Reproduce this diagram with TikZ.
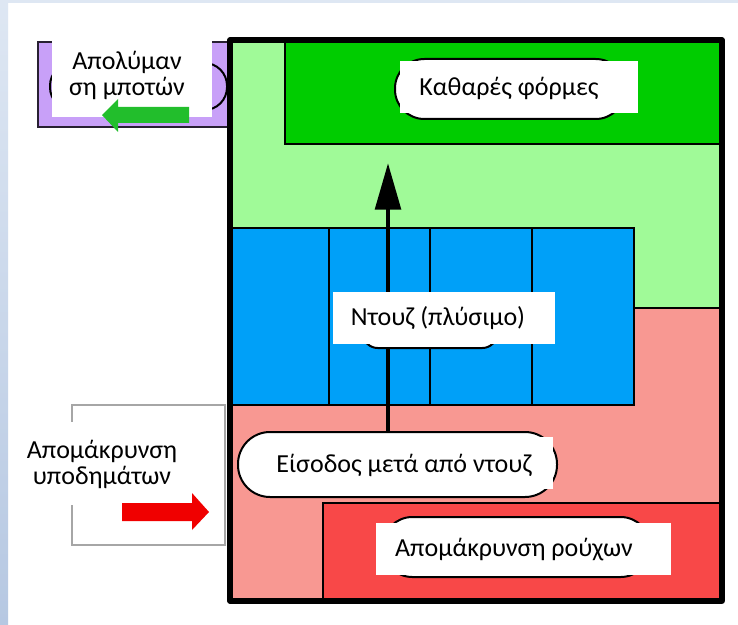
\documentclass[tikz,border=0pt]{standalone}
\usepackage{fontspec}
\setmainfont{Carlito}
\usetikzlibrary{arrows.meta}
\definecolor{lgreen}{RGB}{160,250,152}
\definecolor{dgreen}{RGB}{0,204,0}
\definecolor{wblue}{RGB}{0,160,248}
\definecolor{wpink}{RGB}{248,152,146}
\definecolor{wred}{RGB}{248,72,72}
\definecolor{wpurple}{RGB}{200,160,248}
\definecolor{agreen}{RGB}{34,190,44}
\definecolor{ared}{RGB}{240,0,0}
\definecolor{bgtop}{RGB}{222,231,243}
\definecolor{bgbot}{RGB}{182,200,226}
\begin{document}
\begin{tikzpicture}[x=0.75pt,y=-0.75pt,
  lbl/.style={font=\fontsize{19.5pt}{19.5pt}\selectfont, inner sep=0pt, align=center},
  stad/.style={draw=black, line width=1.5pt, fill=white},
  wbox/.style={fill=white},
  edge/.style={draw=black, line width=2pt},
  frame/.style={draw=black, line width=3.8pt, line join=round}]
\useasboundingbox (0,0) rectangle (738,624);
\fill[white] (0,0) rectangle (738,624);
\fill[bgtop] (0,0) rectangle (738,3);
\shade[top color=bgtop, bottom color=bgbot] (0,0) rectangle (8,624);

% left: boots
\draw[fill=wpurple, draw=black!80!wpurple, line width=1.5pt] (38,42) rectangle (228,127);
\draw[stad, fill=none, rounded corners=17pt] (50,63) rectangle (227,110);
\fill[wbox] (52,41) rectangle (212,117);
\node[lbl] (boots) at (127,75) {Απολύμαν\\ση μποτών};
\fill[agreen] (189,107) -- (118,107) -- (118,99) -- (102,115) -- (118,132) -- (118,123) -- (189,123) -- cycle;

% left: shoes
\draw[gray!70, line width=1.2pt] (72,405) rectangle (225,545);
\fill[wbox] (20,422) rectangle (205,505);
\node[lbl] (shoes) at (102,464) {Απομάκρυνση\\υποδημάτων};
\fill[ared] (122,503) -- (192,503) -- (192,493) -- (209,512) -- (192,530) -- (192,521) -- (122,521) -- cycle;

% main frame
\fill[wpink] (230,40) rectangle (722,601);
\fill[lgreen] (230,40) -- (722,40) -- (722,308) -- (634,308) -- (634,228) -- (230,228) -- cycle;
\draw[edge, fill=wblue] (230,228) rectangle (634,405);
\draw[edge] (329,228) -- (329,405);
\draw[edge] (430,228) -- (430,405);
\draw[edge] (532,228) -- (532,405);
\draw[edge] (634,308) -- (722,308);
\draw[edge, fill=dgreen] (285,40) rectangle (722,144);
\draw[edge, fill=wred] (323,503) rectangle (722,601);
\draw[frame] (230,40) rectangle (722,601);

% flow arrow
\coordinate (base) at (388,432);
\coordinate (tip) at (388,163);
\draw[line width=3.6pt, -{Triangle[length=35pt,width=19pt]}] (base) -- (tip);

% stadiums
\draw[stad, rounded corners=22pt] (395,59) rectangle (625,119);
\draw[stad, rounded corners=11pt] (363,296) rectangle (497,348);
\draw[stad, rounded corners=24pt] (238,432) rectangle (557,497);
\draw[stad, rounded corners=22pt] (383,517) rectangle (650,577);

% white label boxes
\fill[wbox] (400,61) rectangle (638,113);
\fill[wbox] (333,292) rectangle (555,344);
\fill[wbox] (257,437) rectangle (553,489);
\fill[wbox] (376,523) rectangle (671,575);

\node[lbl] (kath) at (509,88) {Καθαρές φόρμες};
\node[lbl] (ntouz) at (438,318) {Ντουζ (πλύσιμο)};
\node[lbl] (eisodos) at (404,465) {Είσοδος μετά από ντουζ};
\node[lbl] (rouxa) at (514,550) {Απομάκρυνση ρούχων};
\end{tikzpicture}
\end{document}
